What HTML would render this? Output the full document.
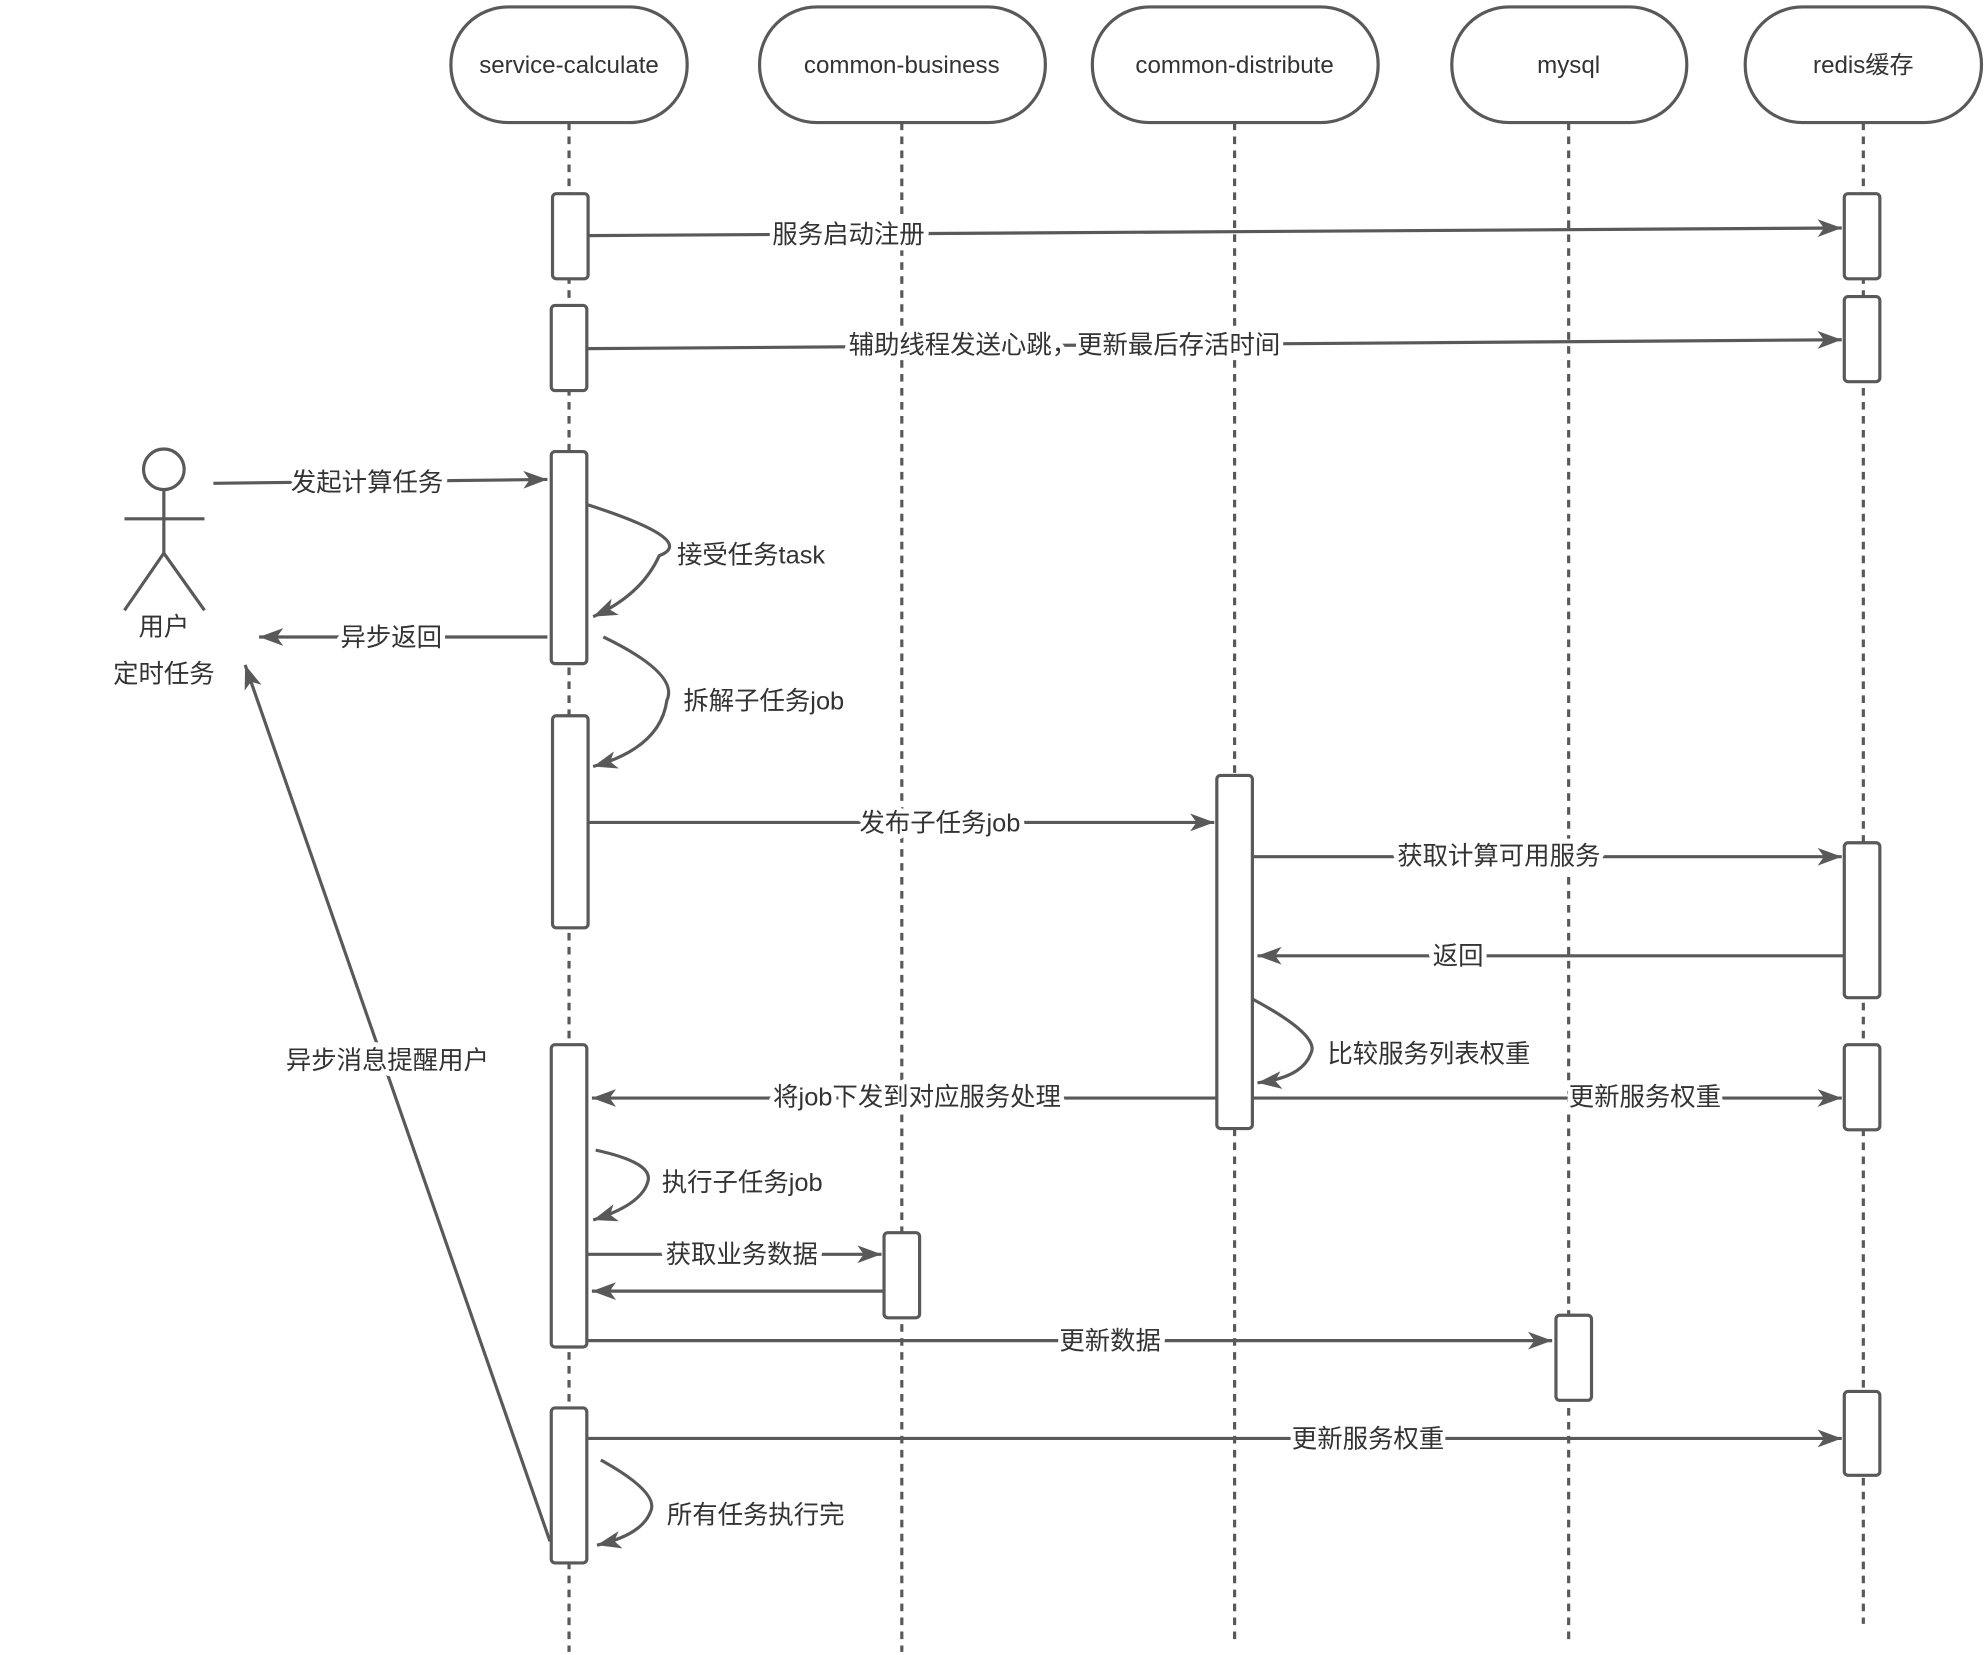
<!DOCTYPE html>
<html><head><meta charset="utf-8"><style>
html,body{margin:0;padding:0;background:#fff;}
svg{display:block;}
text{font-family:"Liberation Sans","Noto Sans CJK SC",sans-serif;fill:#333;}
.lbl{font-size:20px;paint-order:stroke;stroke:#fff;stroke-width:8px;stroke-linejoin:round;}
.hd{font-size:19px;}
</style></head><body>
<svg width="1984" height="1655" viewBox="0 0 1562 1302" xmlns="http://www.w3.org/2000/svg">
<defs>
<marker id="a" viewBox="0 0 10 10" refX="9" refY="5" markerWidth="7" markerHeight="7" markerUnits="userSpaceOnUse" orient="auto" style="overflow:visible">
<path d="M-10,-5 L9,5 L-10,15 L-6,5 Z" fill="#595959" transform="translate(0,0)"/>
</marker>
<marker id="b" viewBox="-20 -8 22 16" refX="0" refY="0" markerWidth="22" markerHeight="16" markerUnits="userSpaceOnUse" orient="auto">
<path d="M0,0 L-19,-7 L-14,0 L-19,7 Z" fill="#595959"/>
</marker>
</defs>
<g stroke="#595959" stroke-width="2.5" fill="none">
<!-- lifelines -->
<g stroke-dasharray="6,5">
<line x1="448" y1="96" x2="448" y2="1300"/>
<line x1="710" y1="96" x2="710" y2="1300"/>
<line x1="972" y1="96" x2="972" y2="1290"/>
<line x1="1235" y1="96" x2="1235" y2="1290"/>
<line x1="1467" y1="96" x2="1467" y2="1278"/>
</g>
<!-- headers -->
<g fill="#fff">
<rect x="355" y="5" width="186" height="91" rx="45"/>
<rect x="598" y="5" width="225" height="91" rx="45"/>
<rect x="860" y="5" width="225" height="91" rx="45"/>
<rect x="1143" y="5" width="185" height="91" rx="45"/>
<rect x="1374" y="5" width="186" height="91" rx="45"/>
<!-- activations -->
<rect x="435" y="152" width="28" height="67" rx="3"/>
<rect x="434" y="240" width="28" height="67" rx="3"/>
<rect x="434" y="355" width="28" height="167" rx="3"/>
<rect x="435" y="563" width="28" height="167" rx="3"/>
<rect x="434" y="822" width="28" height="238" rx="3"/>
<rect x="434" y="1108" width="28" height="122" rx="3"/>
<rect x="1452" y="152" width="28" height="67" rx="3"/>
<rect x="1452" y="233" width="28" height="67" rx="3"/>
<rect x="1452" y="663" width="28" height="122" rx="3"/>
<rect x="1452" y="822" width="28" height="67" rx="3"/>
<rect x="1452" y="1095" width="28" height="66" rx="3"/>
<rect x="958" y="610" width="28" height="278" rx="3"/>
<rect x="696" y="970" width="28" height="67" rx="3"/>
<rect x="1225" y="1035" width="28" height="67" rx="3"/>
</g>
<!-- actor -->
<circle cx="129" cy="369" r="16"/>
<line x1="129" y1="385" x2="129" y2="435"/>
<line x1="98" y1="408" x2="161" y2="408"/>
<path d="M98,480 L129,435 L161,480"/>
<!-- arrows -->
<line x1="463" y1="185" x2="1450" y2="179" marker-end="url(#b)"/>
<line x1="463" y1="274" x2="1450" y2="267" marker-end="url(#b)"/>
<line x1="168" y1="380" x2="431" y2="377" marker-end="url(#b)"/>
<path d="M463,397 Q550,425 519,437 Q505,468 467,485" marker-end="url(#b)"/>
<line x1="431" y1="501" x2="204" y2="501" marker-end="url(#b)"/>
<path d="M475,501 Q535,530 525,551 Q520,588 467,603" marker-end="url(#b)"/>
<line x1="463" y1="647" x2="956" y2="647" marker-end="url(#b)"/>
<line x1="986" y1="674" x2="1450" y2="674" marker-end="url(#b)"/>
<line x1="1452" y1="752" x2="990" y2="752" marker-end="url(#b)"/>
<path d="M986,786 Q1040,815 1032,829 Q1025,848 990,852" marker-end="url(#b)"/>
<line x1="958" y1="864" x2="466" y2="864" marker-end="url(#b)"/>
<line x1="986" y1="864" x2="1450" y2="864" marker-end="url(#b)"/>
<path d="M469,905 Q515,915 510,930 Q505,948 467,960" marker-end="url(#b)"/>
<line x1="463" y1="987" x2="694" y2="987" marker-end="url(#b)"/>
<line x1="696" y1="1016" x2="466" y2="1016" marker-end="url(#b)"/>
<line x1="463" y1="1055" x2="1222" y2="1055" marker-end="url(#b)"/>
<line x1="463" y1="1132" x2="1450" y2="1132" marker-end="url(#b)"/>
<path d="M473,1149 Q520,1175 512,1190 Q505,1208 470,1216" marker-end="url(#b)"/>
<line x1="433" y1="1213" x2="193" y2="523" marker-end="url(#b)"/>
</g>
<g class="hd" text-anchor="middle">
<text x="448" y="57">service-calculate</text>
<text x="710" y="57">common-business</text>
<text x="972" y="57">common-distribute</text>
<text x="1235" y="57">mysql</text>
<text x="1467" y="57">redis缓存</text>
</g>
<g class="lbl" text-anchor="middle">
<text x="668" y="191">服务启动注册</text>
<text x="838" y="278">辅助线程发送心跳，更新最后存活时间</text>
<text x="289" y="386">发起计算任务</text>
<text x="308" y="508">异步返回</text>
<text x="740" y="654">发布子任务job</text>
<text x="1180" y="680">获取计算可用服务</text>
<text x="1148" y="759">返回</text>
<text x="722" y="870">将job下发到对应服务处理</text>
<text x="1295" y="870">更新服务权重</text>
<text x="584" y="994">获取业务数据</text>
<text x="874" y="1062">更新数据</text>
<text x="1077" y="1139">更新服务权重</text>
<text x="305" y="841">异步消息提醒用户</text>
<text x="129" y="500">用户</text>
<text x="129" y="537">定时任务</text>
</g>
<g class="lbl">
<text x="533" y="443">接受任务task</text>
<text x="538" y="558">拆解子任务job</text>
<text x="1045" y="836">比较服务列表权重</text>
<text x="521" y="937">执行子任务job</text>
<text x="525" y="1199">所有任务执行完</text>
</g>
</svg>
</body></html>
